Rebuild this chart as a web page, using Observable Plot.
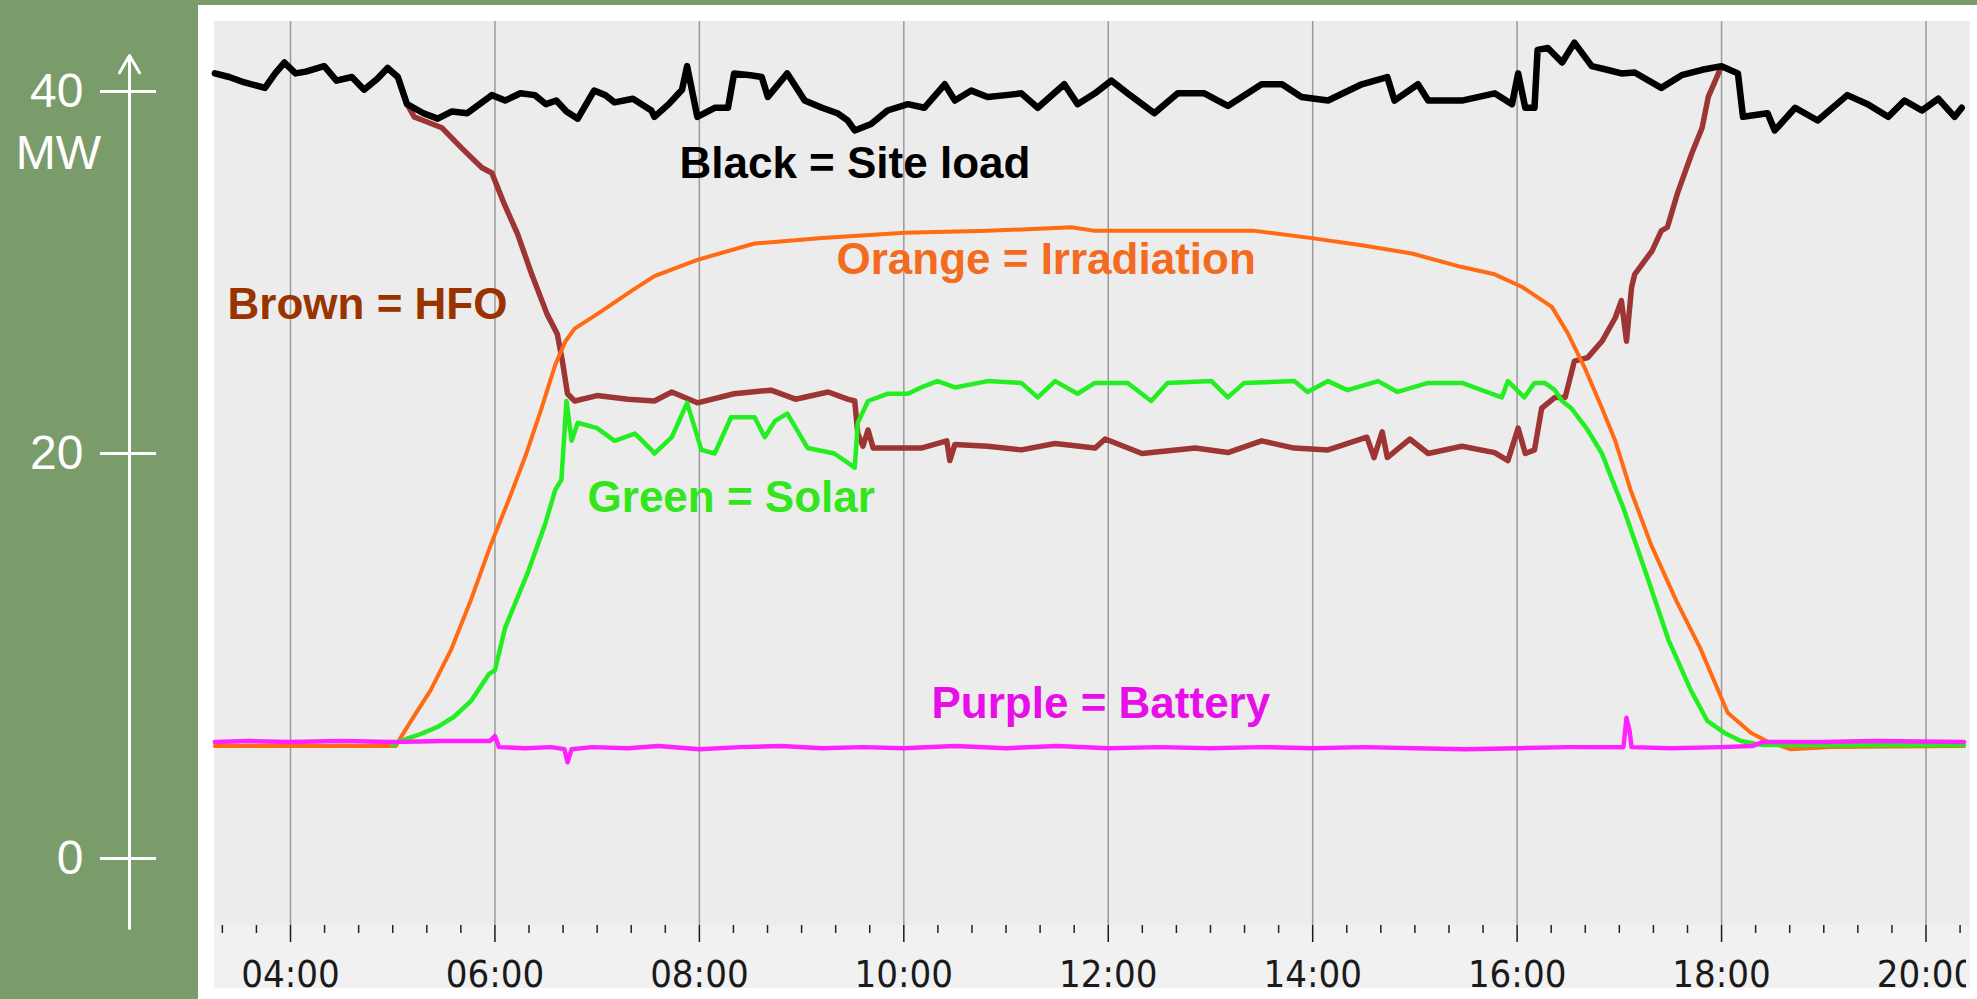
<!DOCTYPE html>
<html><head><meta charset="utf-8">
<script src="https://cdn.jsdelivr.net/npm/d3@7"></script>
<script src="https://cdn.jsdelivr.net/npm/@observablehq/plot@0.6"></script>
<style>
html,body{margin:0;padding:0;background:#7a9c6a;width:1977px;height:999px;overflow:hidden;}
#panel{position:absolute;left:198px;top:5px;width:1779px;height:994px;background:#fff;}
#area{position:absolute;left:214px;top:21px;width:1756px;height:904px;background:#ececec;}
#strip{position:absolute;left:214px;top:925px;width:1756px;height:63px;background:#f1f1f1;}
#chart{position:absolute;left:0;top:0;width:1966px;height:999px;overflow:hidden;}
</style></head><body>
<div id="panel"></div><div id="area"></div><div id="strip"></div><div id="chart"></div>
<script>
// time in decimal hours, value in MW (as read against the overlay axis)
const siteLoad = [[3.26,41.0],[3.40,40.8],[3.55,40.5],[3.75,40.2],[3.85,41.0],[3.94,41.6],[4.05,41.0],[4.15,41.1],[4.33,41.4],[4.45,40.6],[4.60,40.8],[4.72,40.1],[4.85,40.7],[4.95,41.3],[5.05,40.8],[5.14,39.3],[5.30,38.8],[5.44,38.5],[5.58,38.9],[5.73,38.8],[5.85,39.3],[5.97,39.8],[6.10,39.5],[6.25,39.9],[6.39,39.8],[6.50,39.3],[6.60,39.5],[6.70,38.9],[6.81,38.5],[6.97,40.05],[7.08,39.8],[7.17,39.4],[7.35,39.6],[7.53,38.95],[7.56,38.6],[7.70,39.3],[7.83,40.1],[7.88,41.4],[7.98,38.6],[8.15,39.1],[8.28,39.1],[8.34,41.0],[8.50,40.9],[8.61,40.8],[8.67,39.7],[8.86,41.0],[9.03,39.5],[9.20,39.1],[9.35,38.8],[9.45,38.4],[9.52,37.85],[9.68,38.2],[9.84,38.95],[10.04,39.3],[10.20,39.1],[10.40,40.4],[10.50,39.5],[10.66,40.05],[10.82,39.7],[11.00,39.8],[11.15,39.9],[11.31,39.1],[11.57,40.4],[11.70,39.3],[11.87,39.9],[12.03,40.6],[12.19,39.9],[12.45,38.8],[12.68,39.9],[12.94,39.9],[13.17,39.2],[13.50,40.4],[13.70,40.4],[13.89,39.7],[14.15,39.5],[14.48,40.4],[14.73,40.8],[14.80,39.5],[15.03,40.4],[15.13,39.5],[15.46,39.5],[15.78,39.9],[15.95,39.3],[16.01,41.0],[16.08,39.1],[16.17,39.1],[16.20,42.3],[16.30,42.4],[16.44,41.6],[16.56,42.7],[16.73,41.4],[16.88,41.2],[17.02,41.0],[17.15,41.05],[17.41,40.2],[17.61,40.9],[17.81,41.2],[18.00,41.4],[18.16,41.0],[18.21,38.6],[18.45,38.8],[18.52,37.85],[18.72,39.1],[18.94,38.4],[19.23,39.8],[19.43,39.3],[19.63,38.6],[19.79,39.5],[19.96,38.95],[20.12,39.6],[20.28,38.6],[20.35,39.1]];

const hfo = [[3.26,41.0],[3.40,40.8],[3.55,40.5],[3.75,40.2],[3.85,41.0],[3.94,41.6],[4.05,41.0],[4.15,41.1],[4.33,41.4],[4.45,40.6],[4.60,40.8],[4.72,40.1],[4.85,40.7],[4.95,41.3],[5.05,40.8],[5.14,39.3],[5.21,38.6],[5.30,38.4],[5.48,38.0],[5.67,36.9],[5.87,35.8],[5.97,35.5],[6.09,33.8],[6.22,32.15],[6.36,29.9],[6.51,27.7],[6.61,26.6],[6.66,25.1],[6.71,23.3],[6.78,22.9],[7.00,23.2],[7.30,23.0],[7.56,22.9],[7.73,23.4],[7.98,22.8],[8.34,23.3],[8.70,23.5],[8.94,23.0],[9.26,23.4],[9.45,23.0],[9.52,22.9],[9.55,21.1],[9.60,20.4],[9.65,21.3],[9.70,20.3],[9.84,20.3],[10.17,20.3],[10.42,20.7],[10.45,19.65],[10.50,20.5],[10.82,20.4],[11.15,20.2],[11.48,20.55],[11.87,20.3],[11.97,20.8],[12.33,20.0],[12.85,20.3],[13.17,20.05],[13.50,20.7],[13.82,20.3],[14.15,20.2],[14.53,20.9],[14.60,19.8],[14.68,21.2],[14.73,19.8],[14.95,20.8],[15.13,20.0],[15.46,20.4],[15.78,20.05],[15.91,19.65],[16.01,21.4],[16.08,20.0],[16.17,20.2],[16.24,22.5],[16.37,23.1],[16.47,23.1],[16.56,25.1],[16.69,25.3],[16.83,26.2],[16.96,27.5],[17.02,28.45],[17.07,26.2],[17.12,29.2],[17.15,29.9],[17.32,31.2],[17.41,32.3],[17.47,32.5],[17.57,34.4],[17.71,36.6],[17.81,38.0],[17.87,39.7],[18.00,41.4],[18.16,41.0],[18.21,38.6],[18.45,38.8],[18.52,37.85],[18.72,39.1],[18.94,38.4],[19.23,39.8],[19.43,39.3],[19.63,38.6],[19.79,39.5],[19.96,38.95],[20.12,39.6],[20.28,38.6],[20.35,39.1]];

const irradiation = [[3.26,5.55],[4.00,5.55],[5.03,5.55],[5.09,6.07],[5.17,6.72],[5.37,8.3],[5.57,10.3],[5.76,12.7],[5.96,15.5],[6.15,17.9],[6.30,19.9],[6.45,22.4],[6.59,24.9],[6.69,26.2],[6.78,26.9],[7.00,27.7],[7.34,29.0],[7.56,29.8],[7.98,30.7],[8.54,31.6],[9.20,31.9],[10.01,32.2],[10.82,32.3],[11.64,32.5],[11.87,32.3],[12.52,32.3],[13.43,32.3],[13.99,31.9],[14.48,31.5],[14.97,31.05],[15.46,30.3],[15.78,29.9],[16.05,29.2],[16.34,28.1],[16.50,26.6],[16.66,24.75],[16.83,22.5],[16.96,20.7],[17.11,18.2],[17.31,15.5],[17.56,12.7],[17.79,10.4],[18.06,7.2],[18.29,6.2],[18.44,5.8],[18.67,5.4],[19.07,5.5],[20.37,5.55]];

const solar = [[5.00,5.6],[5.07,5.8],[5.25,6.1],[5.44,6.5],[5.60,7.0],[5.77,7.8],[5.94,9.1],[6.00,9.3],[6.10,11.4],[6.32,14.1],[6.49,16.5],[6.59,18.2],[6.65,18.7],[6.70,22.9],[6.75,20.7],[6.81,21.7],[7.00,21.4],[7.17,20.7],[7.37,21.1],[7.53,20.2],[7.56,20.0],[7.73,20.9],[7.88,22.8],[8.02,20.2],[8.15,20.0],[8.31,22.0],[8.54,22.0],[8.64,20.9],[8.74,21.8],[8.86,22.2],[9.06,20.3],[9.32,20.0],[9.52,19.3],[9.55,21.7],[9.65,22.9],[9.84,23.3],[10.04,23.3],[10.17,23.65],[10.33,24.0],[10.50,23.65],[10.82,24.0],[11.15,23.9],[11.31,23.1],[11.48,24.0],[11.70,23.3],[11.87,23.9],[12.19,23.9],[12.42,22.9],[12.58,23.9],[13.01,24.0],[13.17,23.1],[13.33,23.9],[13.82,24.0],[13.95,23.4],[14.15,24.0],[14.34,23.5],[14.64,24.0],[14.83,23.4],[15.13,23.9],[15.46,23.9],[15.85,23.1],[15.91,24.0],[16.07,23.1],[16.17,23.9],[16.27,23.9],[16.37,23.5],[16.44,22.9],[16.53,22.5],[16.69,21.3],[16.83,20.0],[16.93,18.7],[17.04,17.3],[17.26,14.1],[17.48,10.8],[17.70,8.3],[17.86,6.8],[18.03,6.2],[18.19,5.8],[18.40,5.6],[20.37,5.6]];

const battery = [[3.26,5.75],[3.60,5.8],[4.00,5.75],[4.50,5.8],[5.00,5.75],[5.50,5.8],[5.95,5.8],[6.00,6.05],[6.04,5.5],[6.30,5.45],[6.55,5.5],[6.68,5.4],[6.71,4.75],[6.75,5.4],[6.95,5.5],[7.30,5.45],[7.60,5.55],[8.00,5.4],[8.40,5.5],[8.80,5.55],[9.20,5.45],[9.60,5.5],[10.00,5.45],[10.50,5.55],[11.00,5.45],[11.50,5.55],[12.00,5.45],[12.50,5.5],[13.00,5.45],[13.50,5.5],[14.00,5.45],[14.50,5.5],[15.00,5.45],[15.50,5.4],[16.00,5.45],[16.50,5.5],[17.04,5.5],[17.07,6.95],[17.10,6.3],[17.12,5.5],[17.50,5.45],[18.00,5.5],[18.30,5.55],[18.40,5.75],[19.00,5.75],[19.50,5.8],[20.37,5.75]];

const majorTicks = [4, 6, 8, 10, 12, 14, 16, 18, 20];
const minorTicks = [3+1/3, 3+2/3, 4+1/3, 4+2/3, 5, 5+1/3, 5+2/3, 6+1/3, 6+2/3, 7, 7+1/3, 7+2/3, 8+1/3, 8+2/3, 9, 9+1/3, 9+2/3, 10+1/3, 10+2/3, 11, 11+1/3, 11+2/3, 12+1/3, 12+2/3, 13, 13+1/3, 13+2/3, 14+1/3, 14+2/3, 15, 15+1/3, 15+2/3, 16+1/3, 16+2/3, 17, 17+1/3, 17+2/3, 18+1/3, 18+2/3, 19, 19+1/3, 19+2/3, 20+1/3];
const yTicks = [0, 20, 40];
const yUnit = "MW";

const labelText = ["Black = Site load", "Orange = Irradiation", "Brown = HFO", "Green = Solar", "Purple = Battery"];
const labelTime = [7.805, 9.341, 3.384, 6.906, 10.271];
const labelMW = [36.02, 30.72, 28.23, 17.83, 7.65];
const labelColor = ["#000000", "#f36b21", "#993300", "#33e51b", "#e80ee8"];

// overlay axis (hand drawn in the original): position in hours and extent in MW
const overlayAxisTime = 2.425;
const overlayAxisFrom = -3.46, overlayAxisTo = 41.99;

const toRows = (arr) => arr.map(([t, v]) => ({t, v}));
const labels = labelText.map((text, i) => ({text, t: labelTime[i], v: labelMW[i], color: labelColor[i]}));

const fmt = (h) => String(Math.round(h)).padStart(2, "0") + ":00";

const chart = Plot.plot({
  width: 1966,
  height: 999,
  marginLeft: 214,
  marginTop: 21,
  marginBottom: 74,
  marginRight: 0,
  style: {background: "transparent", overflow: "hidden"},
  x: {type: "linear", domain: [4, 20], range: [290, 1925.5]},
  y: {type: "linear", domain: [0, 20, 40], range: [858, 453, 91]},
  marks: [
    Plot.gridX(majorTicks, {stroke: "#9a9a9a", strokeOpacity: 1, strokeWidth: 1.5}),
    Plot.axisX({ticks: minorTicks, tickSize: 8, text: null, label: null, color: "#222", strokeWidth: 1.5}),
    Plot.axisX({ticks: majorTicks, tickSize: 17, tickPadding: 18, tickFormat: fmt, label: null, color: "#1a1a1a", strokeWidth: 1.5,
      fontSize: 38, fontFamily: "'DejaVu Sans Condensed', 'Liberation Sans Narrow', 'Liberation Sans', sans-serif"}),
    Plot.axisY({ticks: yTicks, tickSize: 56, dx: -58, tickPadding: 17, color: "white", strokeWidth: 3,
      fontSize: 48, fontFamily: "'Liberation Sans', Arial, sans-serif", label: null}),
    Plot.text([yUnit], {frameAnchor: "top-left", dx: -156, dy: 132, text: d => d, fill: "white",
      fontSize: 48, fontFamily: "'Liberation Sans', Arial, sans-serif", textAnchor: "middle", lineAnchor: "middle"}),
    Plot.arrow([0], {x1: overlayAxisTime, x2: overlayAxisTime, y1: overlayAxisFrom, y2: overlayAxisTo,
      stroke: "white", strokeWidth: 3, headLength: 10, headAngle: 60}),
    Plot.line(toRows(hfo), {x: "t", y: "v", stroke: "#9e3535", strokeWidth: 5.5}),
    Plot.line(toRows(siteLoad), {x: "t", y: "v", stroke: "#000", strokeWidth: 6.5}),
    Plot.line(toRows(irradiation), {x: "t", y: "v", stroke: "#ff6a13", strokeWidth: 4}),
    Plot.line(toRows(solar), {x: "t", y: "v", stroke: "#22ee22", strokeWidth: 4.5}),
    Plot.line(toRows(battery), {x: "t", y: "v", stroke: "#ff22ff", strokeWidth: 4.5}),
    Plot.text(labels, {x: "t", y: "v", text: "text", fill: "color", textAnchor: "start", lineAnchor: "middle",
      fontSize: 44, fontWeight: "bold", fontFamily: "'Liberation Sans', Arial, sans-serif"})
  ]
});
document.getElementById("chart").appendChild(chart);
</script>
</body></html>
